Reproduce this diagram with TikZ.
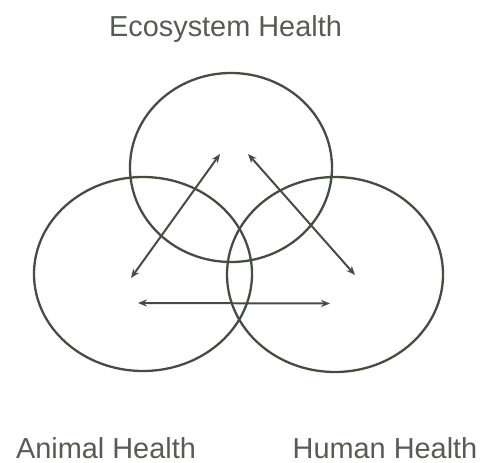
\documentclass[tikz,border=0pt]{standalone}
\usepackage{fontspec}
\setmainfont{Liberation Sans}
\usetikzlibrary{shapes.geometric,arrows.meta}
\definecolor{inkgreen}{HTML}{454C40}
\definecolor{textgray}{HTML}{575C53}
\tikzset{
  health circle/.style={
    ellipse, draw=inkgreen, line width=1.15pt, inner sep=0pt
  },
  link arrow/.style={
    draw=inkgreen, line width=1pt, {Stealth[length=4.5pt,width=3.6pt]}-{Stealth[length=4.5pt,width=3.6pt]}
  },
  health label/.style={
    anchor=base, text=textgray, font=\fontsize{14.5}{17}\selectfont
  }
}
\begin{document}
\begin{tikzpicture}[x=0.5bp, y=-0.5bp]
\useasboundingbox (0,0) rectangle (484,463);

% ---------------------------
% circles
% ---------------------------
\node[health circle, minimum width=101bp, minimum height=94.5bp] (eco) at (231,167.5) {};
\node[health circle, minimum width=109bp, minimum height=97bp] (animal) at (143,274) {};
\node[health circle, minimum width=108bp, minimum height=97.5bp] (human) at (335,274.5) {};

% ---------------------------
% labels
% ---------------------------
\node[health label] (ecolabel) at (225.5,37) {Ecosystem Health};
\node[health label] (animallabel) at (106,458) {Animal Health};
\node[health label] (humanlabel) at (385,458) {Human Health};

% ---------------------------
% arrows
% ---------------------------
\coordinate (ecoL) at (220,154);
\coordinate (ecoR) at (248,154);
\coordinate (animalT) at (131,278);
\coordinate (animalB) at (138,303);
\coordinate (humanT) at (355,275);
\coordinate (humanB) at (330,303.5);

\draw[link arrow] (animalT) -- (ecoL);
\draw[link arrow] (ecoR) -- (humanT);
\draw[link arrow] (animalB) -- (humanB);

\end{tikzpicture}
\end{document}
